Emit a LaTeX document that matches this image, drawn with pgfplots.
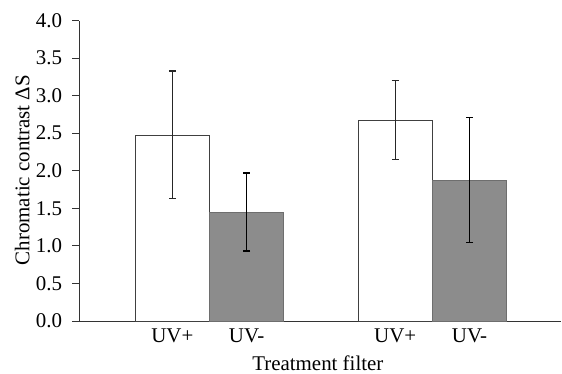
\documentclass[border=0pt]{standalone}
\usepackage{fontspec}
\setmainfont{Liberation Serif}
\usepackage{pgfplots}
\pgfplotsset{compat=1.18}
\definecolor{barfill}{HTML}{8C8C8C}
\definecolor{baredge}{HTML}{6E6E6E}
\begin{document}
\begin{tikzpicture}
\useasboundingbox (-79.5bp,-53bp) rectangle (482.5bp,321bp);
\begin{axis}[
  at={(0,0)}, anchor=south west,
  scale only axis,
  width=481.5bp, height=300.5bp,
  xmin=-1.249, xmax=5.231,
  ymin=0, ymax=4,
  axis x line=bottom, axis y line=left,
  axis line style={-, line width=1pt, black!80},
  xtick={0,1,3,4},
  xticklabels={UV+,UV-,UV+,UV-},
  x tick style={draw=none},
  ytick={0,0.5,...,4},
  y tick style={line width=1pt, black!80},
  tick align=outside,
  major tick length=7bp,
  /pgf/number format/assume math mode=true,
  yticklabel style={/pgf/number format/.cd, fixed, fixed zerofill, precision=1, /tikz/.cd, xshift=-7bp},
  xticklabel style={anchor=base, yshift=-14.5bp},
  tick label style={font=\fontsize{21}{25}\selectfont},
  label style={font=\fontsize{21}{25}\selectfont},
  xlabel={Treatment filter},
  xlabel style={at={(axis description cs:0.495,-0.166)}, anchor=base},
  ylabel={Chromatic contrast ΔS},
  ylabel style={at={(axis description cs:-0.119,0.502)}, anchor=center},
  ybar, bar width=1, bar shift=0pt,
  clip=false,
]
\addplot[fill=white, draw=black!75, line width=0.9pt,
  error bars/.cd, y dir=both, y explicit,
  error bar style={line width=1.3pt, black!85},
  error mark options={rotate=90, mark size=3.5bp, line width=1.3pt, black!85}]
  coordinates {(0,2.476) +- (0,0.85) (3,2.676) +- (0,0.525)};
\addplot[fill=barfill, draw=baredge, line width=0.9pt,
  error bars/.cd, y dir=both, y explicit,
  error bar style={line width=1.3pt, black},
  error mark options={rotate=90, mark size=3.5bp, line width=1.3pt, black}]
  coordinates {(1,1.45) +- (0,0.52) (4,1.876) +- (0,0.833)};
\end{axis}
\end{tikzpicture}
\end{document}
